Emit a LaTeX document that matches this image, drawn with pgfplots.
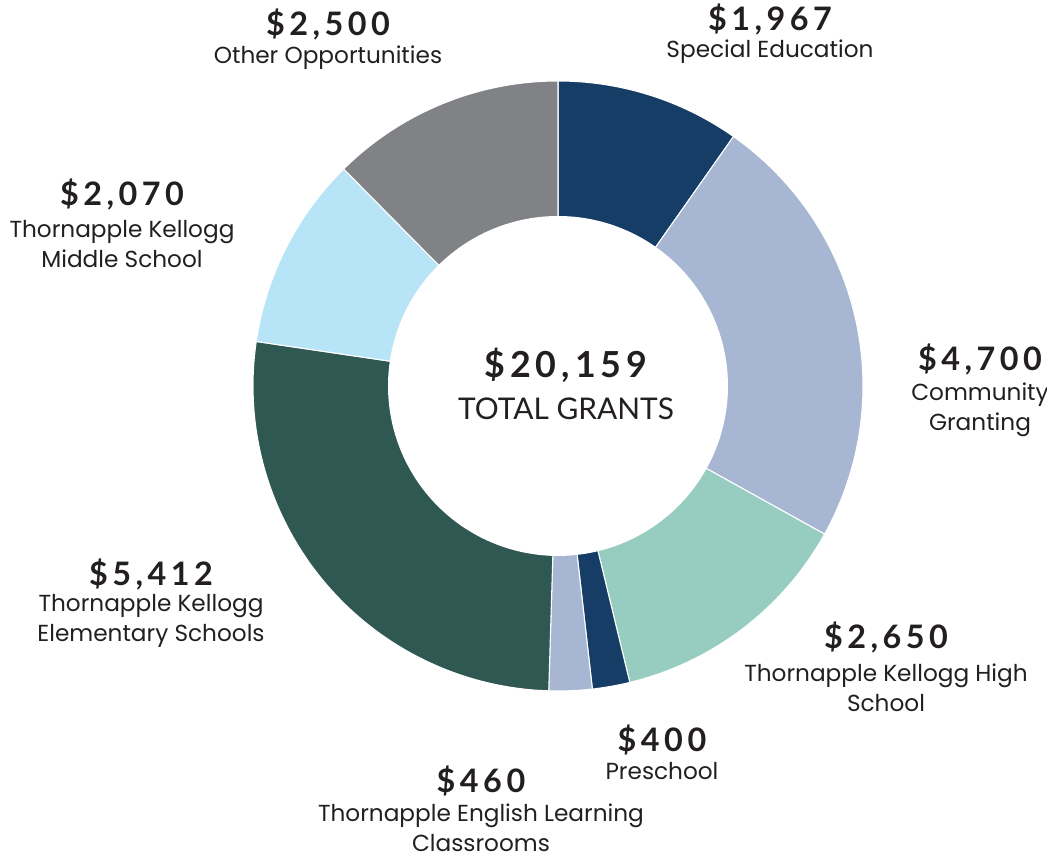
\documentclass[border=0pt]{standalone}
\usepackage{fontspec}
\usepackage{pgfplots}
\usepackage{pgfplotstable}
\pgfplotsset{compat=1.18}
\setmainfont{Poppins}
\newfontfamily\valfont[LetterSpace=14]{Lato Bold}
\newfontfamily\latofont{Lato}

\definecolor{cNavy}{HTML}{153D65}
\definecolor{cSlate}{HTML}{A7B7D3}
\definecolor{cMint}{HTML}{97CDC0}
\definecolor{cGreen}{HTML}{305852}
\definecolor{cSky}{HTML}{B8E4F8}
\definecolor{cGrey}{HTML}{808285}
\definecolor{ink}{HTML}{231F20}

% grants, clockwise from 12 o'clock
\pgfplotstableread{
value color
1967 cNavy
4700 cSlate
2650 cMint
400 cNavy
460 cSlate
5412 cGreen
2070 cSky
2500 cGrey
}\grants

\tikzset{
  val/.style={text=ink, align=center, font=\valfont\fontsize{9.2}{11}\selectfont},
  lab/.style={text=ink, align=center, font=\fontsize{6.6}{8.5}\selectfont},
}

\begin{document}
\begin{tikzpicture}
\begin{axis}[
    scale only axis,
    width=10.47cm, height=8.55cm,
    xmin=0, xmax=1047, ymin=0, ymax=855,
    axis lines=none,
    clip=false,
]
  \pgfplotstablegetrowsof{\grants}
  \pgfmathtruncatemacro\nrows{\pgfplotsretval-1}
  \def\total{0}
  \pgfplotsforeachungrouped \i in {0,...,\nrows}{
    \pgfplotstablegetelem{\i}{value}\of\grants
    \edef\total{\fpeval{\total+\pgfplotsretval}}
  }
  \def\cum{0}
  \pgfplotsforeachungrouped \i in {0,...,\nrows}{
    \pgfplotstablegetelem{\i}{value}\of\grants \let\v\pgfplotsretval
    \pgfplotstablegetelem{\i}{color}\of\grants \let\col\pgfplotsretval
    \edef\aStart{\fpeval{90-360*\cum/\total}}
    \edef\cum{\fpeval{\cum+\v}}
    \edef\aEnd{\fpeval{90-360*\cum/\total}}
    \edef\slice{\noexpand\addplot[fill=\col, draw=white, line width=0.3pt,
        domain=\aEnd:\aStart, samples=90]
        ({558+305*cos(x)},{469+305*sin(x)}) -- (558,469) -- cycle;}
    \slice
  }
  % hole
  \addplot[fill=white, draw=none, domain=0:360, samples=180]
    ({558+170*cos(x)},{469+170*sin(x)}) -- cycle;

  \coordinate (bl) at (rel axis cs:0,0);
  \coordinate (tr) at (rel axis cs:1,1);

  % centre
  \node[val, font=\valfont\fontsize{10.2}{12}\selectfont] at (566,490) {\$20,159};
  \node[lab, font=\latofont\fontsize{8.5}{10}\selectfont] at (566,446) {TOTAL GRANTS};

  % labels
  \node[val] at (328,830) {\$2,500};
  \node[lab] at (328,797) {Other Opportunities};
  \node[val] at (770,835) {\$1,967};
  \node[lab] at (770,803) {Special Education};
  \node[val] at (122,660) {\$2,070};
  \node[lab] at (122,611) {Thornapple Kellogg\\Middle School};
  \node[val] at (980,495) {\$4,700};
  \node[lab] at (980,445) {Community\\Granting};
  \node[val] at (886,217) {\$2,650};
  \node[lab] at (886,167) {Thornapple Kellogg High\\School};
  \node[val] at (662,115) {\$400};
  \node[lab] at (662,84) {Preschool};
  \node[val] at (481,74) {\$460};
  \node[lab] at (481,27) {Thornapple English Learning\\Classrooms};
  \node[val] at (151,280) {\$5,412};
  \node[lab] at (151,234) {Thornapple Kellogg\\Elementary Schools};
\end{axis}
\pgfresetboundingbox
\path[use as bounding box] (bl) rectangle (tr);
\end{tikzpicture}
\end{document}
